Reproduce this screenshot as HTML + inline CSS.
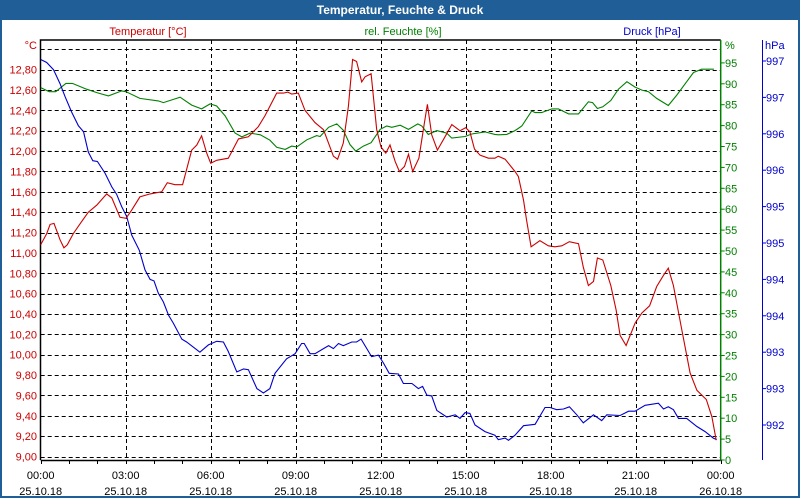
<!DOCTYPE html>
<html><head><meta charset="utf-8"><style>
body{margin:0;width:800px;height:500px;overflow:hidden;background:#fff;font-family:"Liberation Sans",sans-serif}
#frame{position:absolute;left:0;top:0;width:796px;height:496px;border:2px solid #1f5e96;border-top:none;background:#fff}
#title{position:absolute;left:0;top:0;width:800px;height:20px;background:#1f5e96;color:#fff;font-weight:bold;font-size:12px;text-align:center;line-height:20px}
svg{position:absolute;left:0;top:0}
text{font-family:"Liberation Sans",sans-serif;font-size:11px}
</style></head><body>
<div id="frame"></div>
<div id="title">Temperatur, Feuchte &amp; Druck</div>
<svg id="chart" width="800" height="500"></svg>
<script>
const tempTicks=["9,00","9,20","9,40","9,60","9,80","10,00","10,20","10,40","10,60","10,80","11,00","11,20","11,40","11,60","11,80","12,00","12,20","12,40","12,60","12,80"];
const humTicks=[0,5,10,15,20,25,30,35,40,45,50,55,60,65,70,75,80,85,90,95];
const presTicks=["992","993","993","994","994","995","995","996","996","997","997"];
const timeLabels=["00:00","03:00","06:00","09:00","12:00","15:00","18:00","21:00","00:00"];
const dateLabels=["25.10.18","25.10.18","25.10.18","25.10.18","25.10.18","25.10.18","25.10.18","25.10.18","26.10.18"];
const tempH=[0,0.21,0.33,0.47,0.68,0.82,0.94,1.15,1.45,1.68,1.98,2.33,2.51,2.8,3.01,3.21,3.5,3.86,4.27,4.47,4.74,5.01,5.33,5.51,5.68,5.86,6,6.21,6.62,6.98,7.33,7.68,7.92,8.33,8.57,8.72,8.86,9.09,9.33,9.68,9.98,10.33,10.48,10.68,10.86,11.01,11.15,11.33,11.45,11.66,11.86,12.01,12.18,12.33,12.51,12.66,12.84,12.98,13.13,13.35,13.54,13.65,13.8,14,14.27,14.51,14.8,15,15.15,15.31,15.51,15.8,16.03,16.15,16.39,16.74,16.86,17.04,17.15,17.31,17.62,17.92,18.15,18.39,18.66,18.98,19.15,19.33,19.51,19.65,19.84,20.12,20.31,20.45,20.66,20.98,21.22,21.49,21.74,21.98,22.15,22.33,22.63,22.92,23.16,23.49,23.69,23.84];
const tempV=[11.08,11.19,11.28,11.29,11.13,11.05,11.08,11.19,11.31,11.4,11.47,11.58,11.54,11.35,11.34,11.42,11.55,11.58,11.6,11.69,11.67,11.67,12.01,12.06,12.15,11.98,11.88,11.91,11.93,12.12,12.14,12.24,12.35,12.57,12.57,12.58,12.56,12.57,12.4,12.28,12.21,11.95,11.92,12.08,12.44,12.9,12.88,12.68,12.73,12.76,12.21,12.04,11.98,12.06,11.9,11.8,11.85,11.97,11.8,11.93,12.27,12.46,12.16,12.01,12.14,12.26,12.2,12.23,12.19,12.02,11.96,11.93,11.93,11.95,11.92,11.8,11.75,11.52,11.32,11.06,11.12,11.07,11.06,11.07,11.11,11.09,10.86,10.68,10.72,10.95,10.93,10.68,10.44,10.19,10.09,10.31,10.41,10.48,10.67,10.78,10.85,10.68,10.24,9.82,9.65,9.56,9.39,9.16];
const humH=[0,0.3,0.53,0.89,1.12,1.62,1.98,2.39,2.86,3.01,3.5,4.15,4.33,4.92,5.33,5.68,5.98,6.21,6.51,6.86,7.1,7.39,7.75,8.09,8.33,8.63,8.86,9.04,9.39,9.74,9.86,10.16,10.45,10.68,10.92,11.12,11.39,11.66,11.98,12.21,12.39,12.69,12.98,13.31,13.45,13.68,13.98,14.33,14.51,14.98,15.21,15.68,16.03,16.15,16.45,16.74,16.98,17.33,17.45,17.68,18.04,18.27,18.63,18.98,19.33,19.48,19.65,19.84,20.12,20.39,20.69,20.98,21.22,21.45,21.74,22.15,22.45,22.8,23.04,23.33,23.76];
const humV=[89.1,88.1,88.1,90.1,90.1,88.7,87.9,87.1,88.3,88.1,86.5,85.9,85.5,86.8,84.9,84,85.2,84.7,82.3,78.2,77.3,78.2,77.8,76.5,74.8,74.3,75.1,74.9,76.6,77.6,77.4,79.6,80.4,78.9,75.4,73.9,75.1,75.9,79.1,79.9,79.6,80.1,79.1,80.4,79.9,77.9,78.8,78.2,77,77.4,78,78.5,77.9,77.8,77.9,78.8,79.9,83.5,83.1,83.1,84,84,82.8,82.8,85.7,85.5,84.1,84.5,86,88.7,90.5,89.2,88.5,88.1,86.5,84.8,87.3,90.5,92.7,93.5,93.5];
const presH=[0,0.21,0.45,0.68,0.86,1.09,1.33,1.51,1.68,1.84,2,2.27,2.51,2.68,2.86,3.04,3.21,3.48,3.68,3.86,4,4.15,4.33,4.51,4.68,4.98,5.15,5.62,5.92,6.21,6.45,6.62,6.92,7.16,7.33,7.63,7.86,8.09,8.27,8.68,8.98,9.21,9.3,9.51,9.68,9.98,10.16,10.33,10.51,10.68,10.98,11.15,11.31,11.51,11.68,11.92,12.1,12.3,12.63,12.8,13.1,13.33,13.48,13.63,13.8,13.98,14.33,14.63,14.8,14.98,15.15,15.33,15.68,16.03,16.15,16.39,16.51,16.74,17.04,17.45,17.8,17.98,18.21,18.45,18.66,18.92,19.15,19.51,19.8,19.98,20.45,20.75,20.98,21.33,21.8,21.98,22.15,22.33,22.51,22.8,23.16,23.45,23.74,23.86];
const presV=[997.02,996.98,996.88,996.69,996.51,996.3,996.11,996.03,995.75,995.63,995.62,995.46,995.27,995.17,995,994.86,994.61,994.4,994.13,994,993.98,993.81,993.69,993.51,993.4,993.18,993.14,993,993.1,993.15,993.14,993.01,992.73,992.77,992.76,992.5,992.44,992.5,992.71,992.91,992.98,993.12,993.12,992.98,992.98,993.05,993.09,993.05,993.12,993.09,993.14,993.14,993.18,993.05,992.94,992.96,992.85,992.71,992.7,992.57,992.57,992.5,992.53,992.41,992.4,992.2,992.11,992.14,992.09,992.17,992.16,992,991.91,991.86,991.8,991.82,991.79,991.86,991.99,992.01,992.24,992.24,992.21,992.22,992.25,992.14,992.03,992.14,992.06,992.14,992.13,992.19,992.19,992.27,992.3,992.22,992.25,992.21,992.09,992.09,991.98,991.91,991.82,991.8];

const L=40.7,R=720.7,T=40,B=460;
const x=h=>L+h*(R-L)/24;
const yT=v=>49.3+(13-v)*101.8;
const yH=v=>460-v*4.18;
const yP=v=>425-(v-992)*72.8;
const svg=document.getElementById('chart');
const NS='http://www.w3.org/2000/svg';
function mk(tag,attrs,parent){const e=document.createElementNS(NS,tag);for(const k in attrs)e.setAttribute(k,attrs[k]);(parent||svg).appendChild(e);return e;}
function txt(s,X,Y,anchor,fill,name){const e=mk('text',{x:X,y:Y,'text-anchor':anchor,fill:fill});e.textContent=s;

return e;}

// grid
for(let i=0;i<=20;i++){const v=9+i*0.2;const yy=Math.round(yT(v))+0.5;
const g=mk('line',{x1:L,x2:R,y1:yy,y2:yy,stroke:'#000','stroke-dasharray':'4,3','stroke-width':1});

}
for(let i=1;i<8;i++){const xx=Math.round(x(i*3))+0.5;
const g=mk('line',{x1:xx,x2:xx,y1:T,y2:B,stroke:'#000','stroke-dasharray':'4,3','stroke-width':1});

}
// axes
let a=mk('path',{d:`M${L-0.2} ${B}V${T}H${R}`,stroke:'#000',fill:'none','stroke-width':1.5});


a=mk('line',{x1:L,x2:R,y1:B+0.5,y2:B+0.5,stroke:'#000','stroke-width':1.5});


a=mk('line',{x1:R,x2:R,y1:T,y2:B,stroke:'#008000','stroke-width':1.5});


a=mk('line',{x1:762.5,x2:762.5,y1:T,y2:B,stroke:'#0000cc','stroke-width':1});


for(let h=0;h<=24;h++){const xx=Math.round(x(h))+0.5;const t=mk('line',{x1:xx,x2:xx,y1:B,y2:B+4,stroke:'#000'});

}
// tick labels
tempTicks.forEach((s,i)=>txt(s,37,yT(9+i*0.2)+4,'end','#cc0000','temp-tick-label'));
txt('°C',37,49,'end','#cc0000','temp-unit');
humTicks.forEach(v=>{const yy=yH(v);const t=mk('line',{x1:R,x2:R+4,y1:yy,y2:yy,stroke:'#008000'});


txt(String(v),725,yy+4,'start','#008000','humidity-tick-label');});
txt('%',725,49,'start','#008000','humidity-unit');
presTicks.forEach((s,i)=>{const yy=yP(992+i*0.5);const t=mk('line',{x1:762,x2:766,y1:yy,y2:yy,stroke:'#0000cc'});


txt(s,766,yy+4,'start','#0000cc','pressure-tick-label');});
txt('hPa',765,49,'start','#0000cc','pressure-unit');
timeLabels.forEach((s,i)=>{txt(s,x(i*3),479,'middle','#000','time-label');txt(dateLabels[i],x(i*3),495,'middle','#000','date-label');});
txt('Temperatur [°C]',148,35,'middle','#cc0000','temp-legend');
txt('rel. Feuchte [%]',403,35,'middle','#008000','humidity-legend');
txt('Druck [hPa]',652,35,'middle','#0000cc','pressure-legend');
// series
function line(H,V,fy,color,name){const d=H.map((h,i)=>(i?'L':'M')+x(h).toFixed(1)+' '+fy(V[i]).toFixed(1)).join('');
const p=mk('path',{d:d,stroke:color,fill:'none','stroke-width':1.1});

}
line(humH,humV,yH,'#008000','humidity-line');
line(presH,presV,yP,'#0000cc','pressure-line');
line(tempH,tempV,yT,'#cc0000','temperature-line');
</script>
</body></html>
